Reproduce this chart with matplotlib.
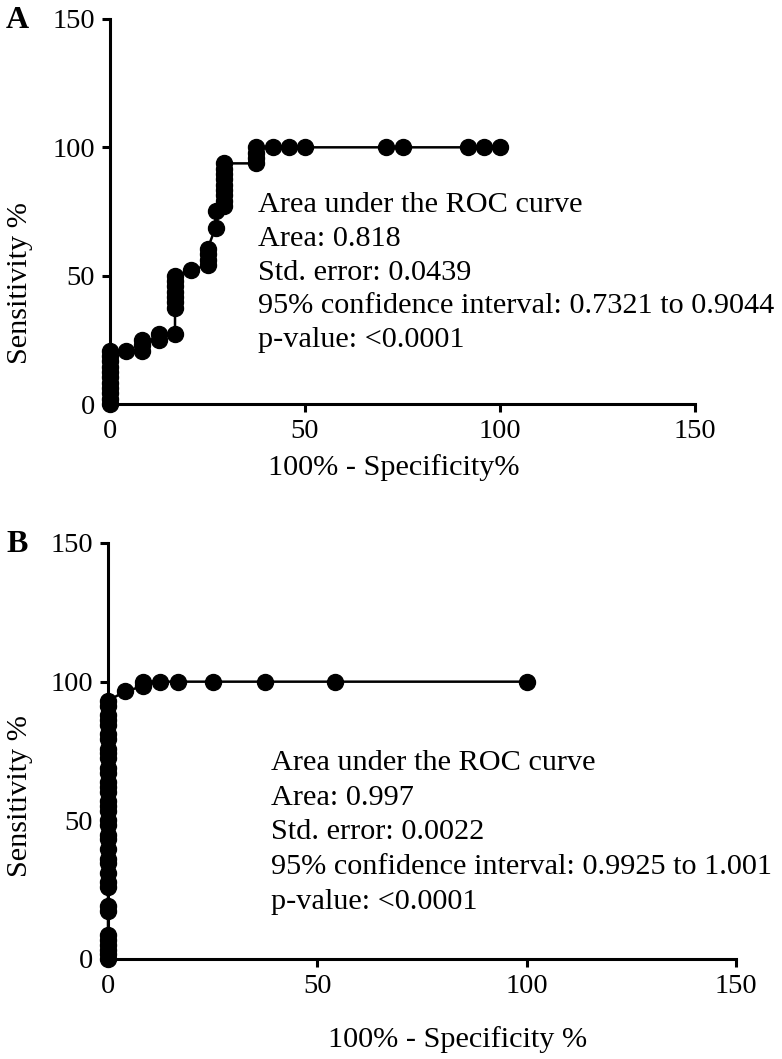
import matplotlib
matplotlib.use("Agg")
import matplotlib.pyplot as plt

plt.rcParams["font.family"] = ["Liberation Serif", "DejaVu Serif"]

# ROC points, panel A (100% - specificity, sensitivity)
fpr_a = [0, 0, 0, 0, 0, 0, 0, 0, 0, 0, 0,
         4.17, 8.33, 8.33, 8.33, 12.5, 12.5, 16.67,
         16.67, 16.67, 16.67, 16.67, 16.67, 16.67, 16.67,
         20.83, 25, 25, 25, 25, 27.08, 27.08,
         29.17, 29.17, 29.17, 29.17, 29.17, 29.17, 29.17, 29.17, 29.17,
         37.5, 37.5, 37.5, 37.5,
         41.67, 45.83, 50, 70.83, 75, 91.67, 95.83, 100]
sens_a = [0, 2.08, 4.17, 6.25, 8.33, 10.42, 12.5, 14.58, 16.67, 18.75, 20.83,
          20.83, 20.83, 22.92, 25, 25, 27.08, 27.08,
          37.5, 39.58, 41.67, 43.75, 45.83, 47.92, 50,
          52.08, 54.17, 56.25, 58.33, 60.42, 68.75, 75,
          77.08, 79.17, 81.25, 83.33, 85.42, 87.5, 89.58, 91.67, 93.75,
          93.75, 95.83, 97.92, 100,
          100, 100, 100, 100, 100, 100, 100, 100]

# ROC points, panel B
fpr_b = [0] * 36 + [4.17, 8.33, 8.33, 12.5, 16.67, 25, 37.5, 54.17, 100]
sens_b = [0, 1.7, 3.4, 5.2, 6.9, 8.6, 17.2, 19.0, 25.9, 27.6, 31.0, 34.5,
          36.2, 39.7, 43.1, 44.8, 48.3, 50.0, 53.4, 55.2, 56.9, 60.3, 62.1,
          63.8, 67.2, 69.0, 72.4, 74.1, 75.9, 79.3, 81.0, 84.5, 86.2, 87.9,
          91.4, 93.1,
          96.6, 98.3, 100, 100, 100, 100, 100, 100, 100]

ticks = [0, 50, 100, 150]

text_a = ["Area under the ROC curve", "Area: 0.818", "Std. error: 0.0439",
          "95% confidence interval: 0.7321 to 0.9044", "p-value: <0.0001"]
text_b = ["Area under the ROC curve", "Area: 0.997", "Std. error: 0.0022",
          "95% confidence interval: 0.9925 to 1.001", "p-value: <0.0001"]

W, H = 782, 1059
fig = plt.figure(figsize=(W / 100, H / 100), dpi=100)


def fx(x):
    return x / W


def fy(y):
    return 1 - y / H


FS = 21.8
TICK_FS = 20.5


def style(ax):
    ax.set_xlim(0, 150)
    ax.set_ylim(0, 150)
    ax.set_xticks(ticks)
    ax.set_yticks(ticks)
    for s in ("top", "right"):
        ax.spines[s].set_visible(False)
    for s in ("left", "bottom"):
        ax.spines[s].set_linewidth(2.2)
    ax.tick_params(width=2.2, length=6, labelsize=TICK_FS, pad=5)
    ax.patch.set_alpha(0)


ax_a = fig.add_axes([fx(110), fy(404), fx(695) - fx(110), fy(19) - fy(404)])
ax_a.plot(fpr_a, sens_a, color="black", lw=1.8, marker="o", ms=11.5, clip_on=False, zorder=3)
style(ax_a)

ax_b = fig.add_axes([fx(108), fy(959), fx(736) - fx(108), fy(543) - fy(959)])
ax_b.plot(fpr_b, sens_b, color="black", lw=1.8, marker="o", ms=11.5, clip_on=False, zorder=3)
style(ax_b)

for i, line in enumerate(text_a):
    fig.text(fx(258), fy(205 + 33.8 * i), line, fontsize=FS, va="center", ha="left")
for i, line in enumerate(text_b):
    fig.text(fx(271), fy(763 + 34.7 * i), line, fontsize=FS, va="center", ha="left")

fig.text(fx(20), fy(283), "Sensitivity %", rotation=90, fontsize=FS, va="center", ha="center")
fig.text(fx(20), fy(796), "Sensitivity %", rotation=90, fontsize=FS, va="center", ha="center")
fig.text(fx(394), fy(468), "100% - Specificity%", fontsize=FS, va="center", ha="center")
fig.text(fx(458), fy(1040), "100% - Specificity %", fontsize=FS, va="center", ha="center")

fig.text(fx(6), fy(20), "A", fontsize=23, fontweight="bold", va="center", ha="left")
fig.text(fx(6), fy(545), "B", fontsize=23, fontweight="bold", va="center", ha="left")

fig.savefig("out.png", dpi=100)
